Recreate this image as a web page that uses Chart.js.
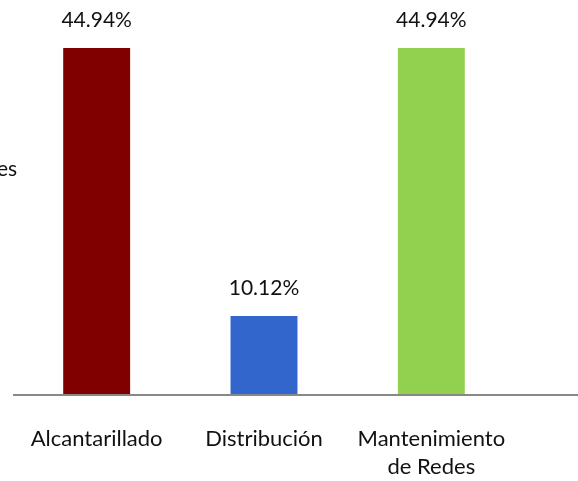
<!DOCTYPE html>
<html>
<head>
<meta charset="utf-8">
<script src="https://cdn.jsdelivr.net/npm/chart.js@4"></script>
<style>
 body{margin:0;background:#fff;}
 #wrap{position:relative;width:578px;height:481px;overflow:hidden;}
 #side{position:absolute;left:-3px;top:155px;font:21px Lato,"Open Sans",sans-serif;color:#111;}
</style>
</head>
<body>
<div id="wrap">
 <canvas id="c" width="578" height="481"></canvas>
 <div id="side">es</div>
</div>
<script>
const categories = ["Alcantarillado", "Distribución", ["Mantenimiento", "de Redes"]]
const values = [44.94, 10.12, 44.94]
const colors = ["#800000", "#3366CC", "#92D050"]

const font = "Lato, 'Open Sans', sans-serif"

// value labels above bars
const valueLabels = {
 id:"valueLabels",
 afterDatasetsDraw(chart){
  const ctx = chart.ctx
  const meta = chart.getDatasetMeta(0)
  ctx.save()
  ctx.font = "21px " + font
  ctx.fillStyle = "#111"
  ctx.textAlign = "center"
  ctx.textBaseline = "middle"
  meta.data.forEach((bar,i)=>{
   ctx.fillText(values[i].toFixed(2) + "%", bar.x, bar.y - 28)
  })
  ctx.restore()
 }
}

// axis line runs out to the right edge
const axisLine = {
 id:"axisLine",
 afterDatasetsDraw(chart){
  const ctx = chart.ctx
  const y = chart.scales.y.getPixelForValue(0)
  ctx.save()
  ctx.strokeStyle = "#888888"
  ctx.lineWidth = 2
  ctx.beginPath()
  ctx.moveTo(chart.chartArea.left, y + 1)
  ctx.lineTo(chart.width, y + 1)
  ctx.stroke()
  ctx.restore()
 }
}

new Chart(document.getElementById("c"), {
 type:"bar",
 data:{
  labels:categories,
  datasets:[{
   data:values,
   backgroundColor:colors,
   barPercentage:0.8,
   categoryPercentage:0.5
  }]
 },
 options:{
  responsive:false,
  animation:false,
  layout:{padding:{left:13, right:63, top:9, bottom:0}},
  plugins:{legend:{display:false}, tooltip:{enabled:false}},
  scales:{
   x:{
    grid:{display:false},
    border:{display:false},
    ticks:{color:"#111", font:{family:font, size:22, lineHeight:1.28}, padding:23, maxRotation:0, autoSkip:false},
    afterFit(s){ s.height = 87 }
   },
   y:{
    display:false,
    min:0,
    max:50
   }
  }
 },
 plugins:[valueLabels, axisLine]
})
</script>
</body>
</html>
